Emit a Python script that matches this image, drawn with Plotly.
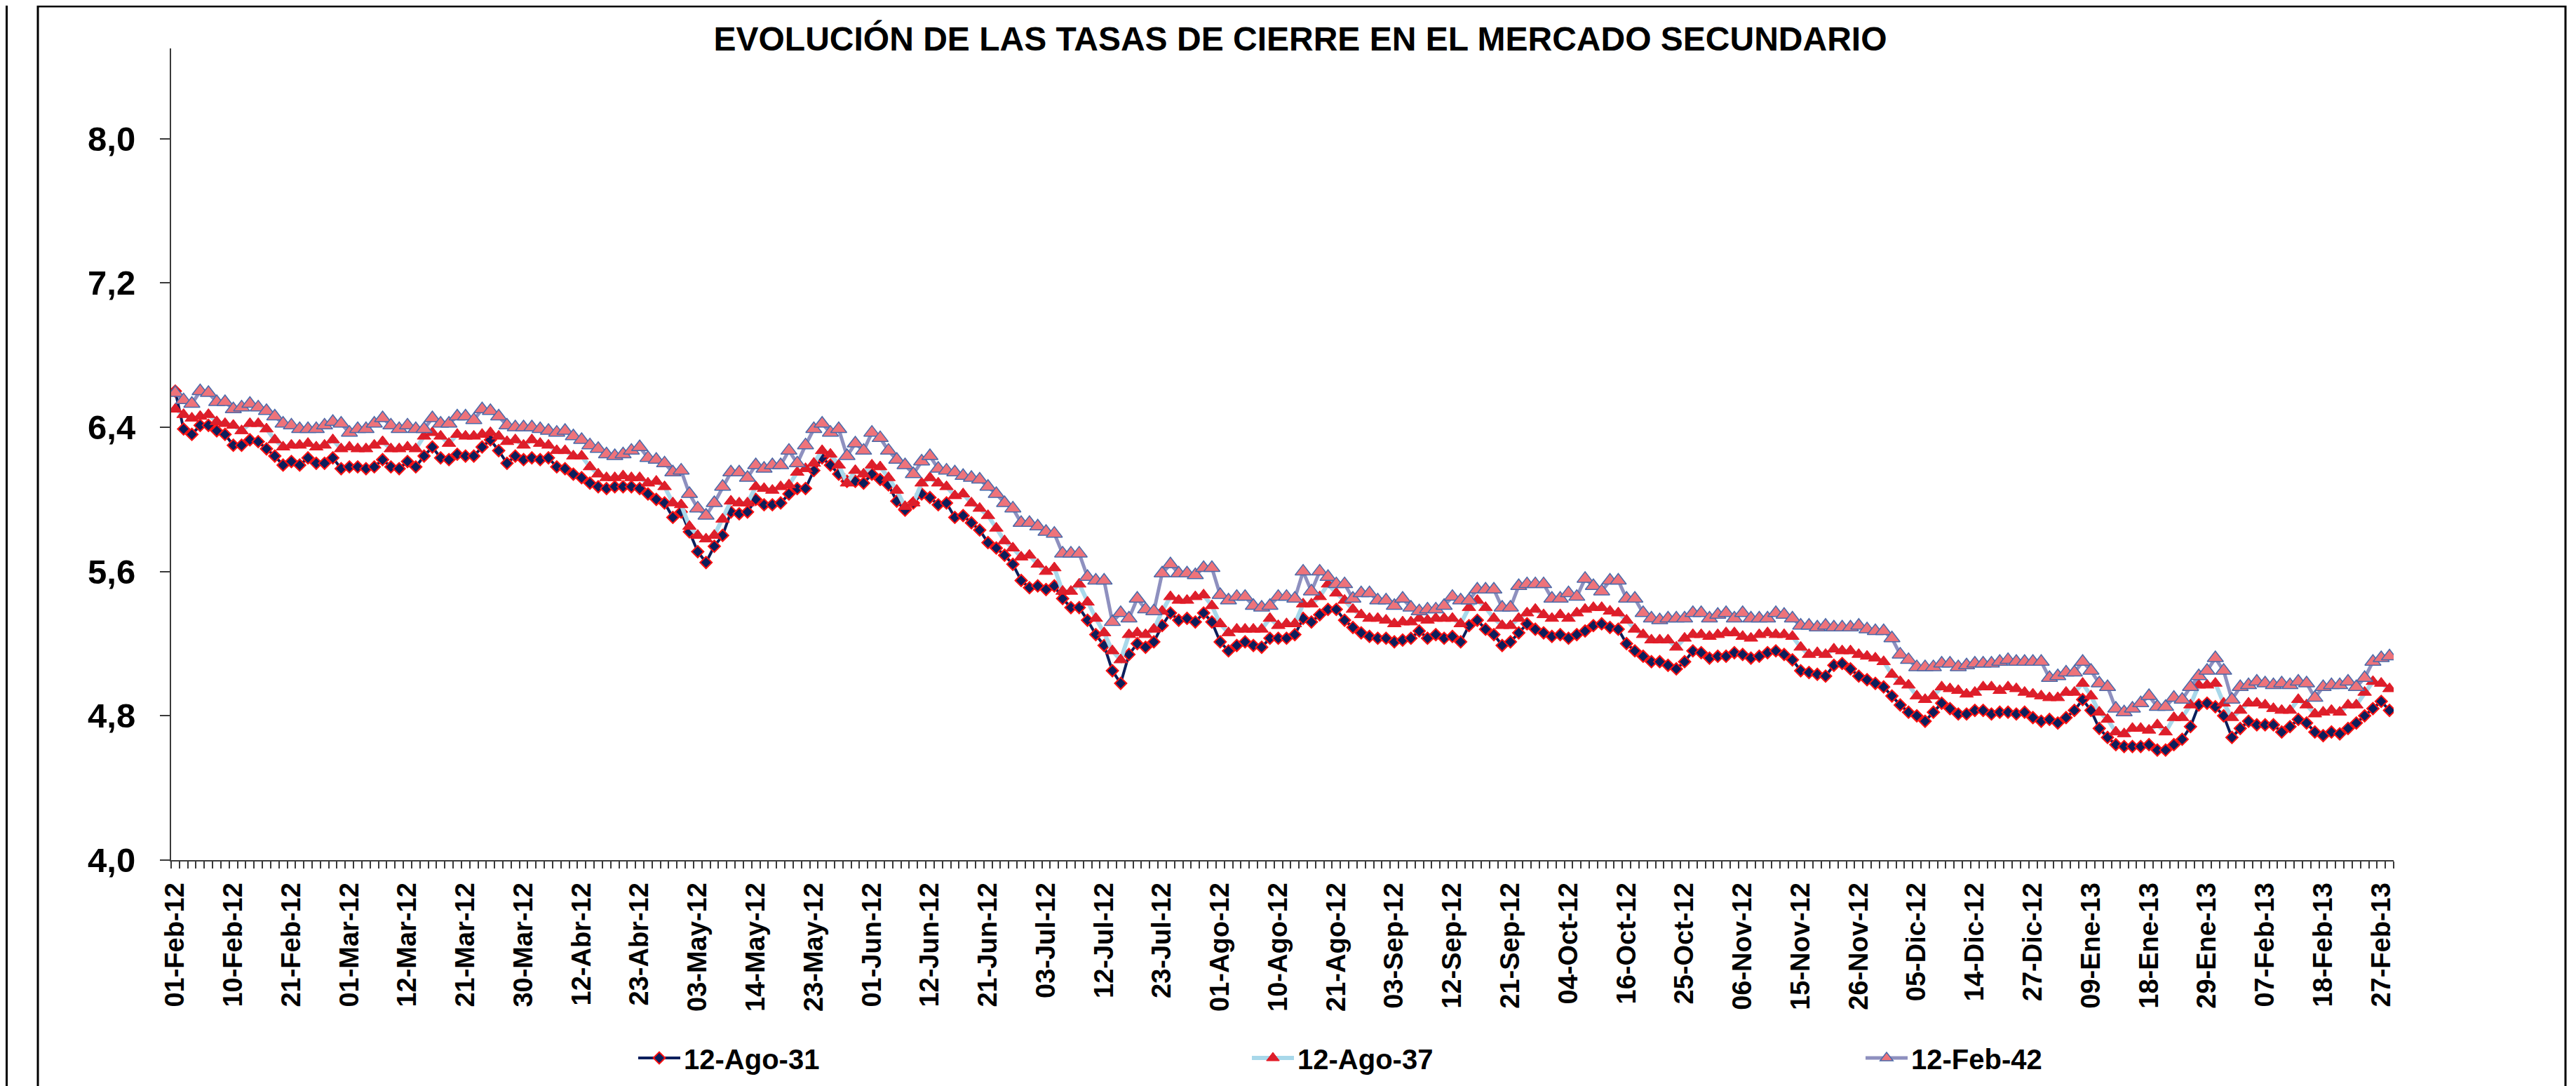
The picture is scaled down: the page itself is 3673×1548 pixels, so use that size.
import plotly.graph_objects as go

# ---------------- data ----------------
series_names = ["12-Ago-31", "12-Ago-37", "12-Feb-42"]

tick_labels = [
    "01-Feb-12", "10-Feb-12", "21-Feb-12", "01-Mar-12", "12-Mar-12", "21-Mar-12",
    "30-Mar-12", "12-Abr-12", "23-Abr-12", "03-May-12", "14-May-12", "23-May-12",
    "01-Jun-12", "12-Jun-12", "21-Jun-12", "03-Jul-12", "12-Jul-12", "23-Jul-12",
    "01-Ago-12", "10-Ago-12", "21-Ago-12", "03-Sep-12", "12-Sep-12", "21-Sep-12",
    "04-Oct-12", "16-Oct-12", "25-Oct-12", "06-Nov-12", "15-Nov-12", "26-Nov-12",
    "05-Dic-12", "14-Dic-12", "27-Dic-12", "09-Ene-13", "18-Ene-13", "29-Ene-13",
    "07-Feb-13", "18-Feb-13", "27-Feb-13",
]

s_ago31 = [
    6.60, 6.39, 6.36, 6.41, 6.41, 6.38, 6.36, 6.30, 6.30, 6.33,
    6.32, 6.28, 6.24, 6.19, 6.21, 6.19, 6.23, 6.20, 6.20, 6.23,
    6.17, 6.18, 6.18, 6.17, 6.18, 6.22, 6.18, 6.17, 6.21, 6.18,
    6.24, 6.29, 6.23, 6.22, 6.25, 6.24, 6.24, 6.29, 6.33, 6.27,
    6.20, 6.24, 6.22, 6.23, 6.22, 6.23, 6.18, 6.17, 6.14, 6.12,
    6.09, 6.07, 6.06, 6.07, 6.07, 6.07, 6.06, 6.03, 6.00, 5.98,
    5.90, 5.93, 5.82, 5.71, 5.65, 5.74, 5.80, 5.93, 5.92, 5.93,
    6.00, 5.97, 5.97, 5.98, 6.03, 6.06, 6.06, 6.16, 6.23, 6.19,
    6.14, 6.10, 6.10, 6.09, 6.14, 6.11, 6.08, 5.99, 5.94, 5.98,
    6.03, 6.01, 5.97, 5.98, 5.90, 5.91, 5.87, 5.83, 5.76, 5.73,
    5.69, 5.64, 5.55, 5.51, 5.52, 5.50, 5.52, 5.45, 5.40, 5.40,
    5.33, 5.25, 5.19, 5.05, 4.98, 5.14, 5.20, 5.18, 5.21, 5.30,
    5.37, 5.33, 5.34, 5.32, 5.37, 5.32, 5.21, 5.16, 5.19, 5.21,
    5.19, 5.18, 5.23, 5.23, 5.23, 5.25, 5.34, 5.32, 5.36, 5.39,
    5.39, 5.33, 5.29, 5.26, 5.24, 5.23, 5.23, 5.21, 5.22, 5.23,
    5.27, 5.23, 5.25, 5.23, 5.24, 5.21, 5.30, 5.33, 5.28, 5.25,
    5.19, 5.21, 5.26, 5.31, 5.28, 5.26, 5.24, 5.25, 5.23, 5.25,
    5.27, 5.30, 5.31, 5.29, 5.28, 5.20, 5.16, 5.13, 5.10, 5.10,
    5.08, 5.06, 5.10, 5.16, 5.15, 5.12, 5.13, 5.13, 5.15, 5.14,
    5.12, 5.13, 5.15, 5.16, 5.14, 5.11, 5.05, 5.04, 5.03, 5.02,
    5.08, 5.09, 5.06, 5.02, 5.00, 4.98, 4.96, 4.91, 4.86, 4.82,
    4.80, 4.77, 4.82, 4.87, 4.84, 4.81, 4.81, 4.83, 4.83, 4.81,
    4.82, 4.82, 4.81, 4.82, 4.79, 4.77, 4.78, 4.76, 4.79, 4.83,
    4.89, 4.83, 4.73, 4.68, 4.64, 4.63, 4.63, 4.63, 4.64, 4.61,
    4.61, 4.64, 4.67, 4.74, 4.86, 4.87, 4.85, 4.80, 4.68, 4.73,
    4.77, 4.75, 4.75, 4.75, 4.71, 4.74, 4.78, 4.76, 4.71, 4.69,
    4.71, 4.70, 4.73, 4.76, 4.80, 4.84, 4.88, 4.83,
]

s_ago37 = [
    6.50, 6.47, 6.45, 6.46, 6.47, 6.43, 6.42, 6.41, 6.38, 6.42,
    6.42, 6.39, 6.33, 6.29, 6.30, 6.30, 6.31, 6.29, 6.30, 6.33,
    6.28, 6.29, 6.28, 6.28, 6.30, 6.32, 6.28, 6.28, 6.29, 6.28,
    6.35, 6.37, 6.35, 6.31, 6.36, 6.35, 6.35, 6.36, 6.37, 6.35,
    6.32, 6.33, 6.30, 6.33, 6.31, 6.30, 6.27, 6.27, 6.24, 6.24,
    6.18, 6.14, 6.12, 6.12, 6.13, 6.12, 6.12, 6.09, 6.10, 6.07,
    5.98, 5.97, 5.85, 5.80, 5.78, 5.80, 5.89, 5.99, 5.98, 5.98,
    6.07, 6.06, 6.05, 6.07, 6.08, 6.15, 6.17, 6.20, 6.27, 6.25,
    6.19, 6.09, 6.16, 6.14, 6.19, 6.18, 6.12, 6.05, 5.96, 5.98,
    6.09, 6.12, 6.09, 6.07, 6.02, 6.03, 5.98, 5.95, 5.91, 5.84,
    5.77, 5.73, 5.68, 5.69, 5.64, 5.60, 5.62, 5.49, 5.49, 5.53,
    5.43, 5.34, 5.26, 5.16, 5.11, 5.25, 5.26, 5.25, 5.28, 5.38,
    5.46, 5.44, 5.44, 5.46, 5.47, 5.41, 5.31, 5.26, 5.28, 5.28,
    5.28, 5.28, 5.34, 5.30, 5.31, 5.31, 5.42, 5.42, 5.46, 5.53,
    5.48, 5.44, 5.39, 5.36, 5.34, 5.34, 5.33, 5.31, 5.32, 5.32,
    5.34, 5.33, 5.34, 5.34, 5.34, 5.31, 5.40, 5.44, 5.40, 5.34,
    5.30, 5.30, 5.34, 5.37, 5.39, 5.36, 5.34, 5.36, 5.34, 5.37,
    5.39, 5.40, 5.40, 5.38, 5.37, 5.33, 5.28, 5.25, 5.22, 5.22,
    5.22, 5.18, 5.23, 5.25, 5.25, 5.24, 5.25, 5.26, 5.26, 5.24,
    5.23, 5.25, 5.26, 5.25, 5.25, 5.24, 5.18, 5.14, 5.15, 5.14,
    5.17, 5.16, 5.16, 5.14, 5.13, 5.12, 5.10, 5.03, 4.99, 4.97,
    4.91, 4.89, 4.91, 4.96, 4.95, 4.94, 4.92, 4.93, 4.96, 4.96,
    4.94, 4.96, 4.95, 4.93, 4.92, 4.91, 4.90, 4.90, 4.93, 4.93,
    4.98, 4.91, 4.82, 4.78, 4.71, 4.70, 4.73, 4.73, 4.72, 4.75,
    4.71, 4.79, 4.79, 4.86, 4.97, 4.97, 4.98, 4.87, 4.79, 4.83,
    4.87, 4.87, 4.86, 4.84, 4.83, 4.83, 4.89, 4.86, 4.81, 4.82,
    4.83, 4.82, 4.86, 4.86, 4.93, 4.99, 4.98, 4.95,
]

s_feb42 = [
    6.59, 6.55, 6.53, 6.60, 6.59, 6.54, 6.54, 6.50, 6.51, 6.53,
    6.51, 6.49, 6.46, 6.42, 6.41, 6.39, 6.39, 6.39, 6.41, 6.43,
    6.42, 6.37, 6.39, 6.39, 6.42, 6.45, 6.41, 6.39, 6.41, 6.39,
    6.39, 6.45, 6.42, 6.42, 6.46, 6.46, 6.44, 6.50, 6.49, 6.46,
    6.41, 6.40, 6.40, 6.40, 6.39, 6.38, 6.37, 6.38, 6.35, 6.33,
    6.30, 6.28, 6.25, 6.24, 6.25, 6.27, 6.29, 6.23, 6.22, 6.20,
    6.15, 6.16, 6.03, 5.95, 5.91, 5.98, 6.07, 6.15, 6.15, 6.12,
    6.19, 6.17, 6.19, 6.19, 6.27, 6.20, 6.30, 6.39, 6.42, 6.37,
    6.39, 6.24, 6.31, 6.27, 6.37, 6.34, 6.27, 6.22, 6.19, 6.14,
    6.21, 6.24, 6.17, 6.16, 6.15, 6.13, 6.12, 6.11, 6.07, 6.03,
    5.98, 5.95, 5.87, 5.87, 5.85, 5.82, 5.81, 5.70, 5.70, 5.70,
    5.57, 5.55, 5.55, 5.32, 5.37, 5.34, 5.45, 5.39, 5.38, 5.59,
    5.64, 5.59, 5.59, 5.58, 5.62, 5.62, 5.47, 5.44, 5.46, 5.46,
    5.41, 5.40, 5.41, 5.46, 5.46, 5.45, 5.60, 5.49, 5.60, 5.57,
    5.53, 5.53, 5.45, 5.48, 5.48, 5.44, 5.44, 5.41, 5.45, 5.40,
    5.38, 5.39, 5.39, 5.41, 5.46, 5.44, 5.44, 5.50, 5.50, 5.50,
    5.40, 5.40, 5.52, 5.53, 5.53, 5.53, 5.45, 5.45, 5.48, 5.46,
    5.56, 5.52, 5.49, 5.55, 5.55, 5.45, 5.45, 5.37, 5.34, 5.33,
    5.34, 5.34, 5.34, 5.37, 5.37, 5.34, 5.36, 5.37, 5.34, 5.37,
    5.34, 5.34, 5.34, 5.37, 5.36, 5.34, 5.30, 5.30, 5.29, 5.30,
    5.29, 5.29, 5.29, 5.30, 5.28, 5.27, 5.27, 5.23, 5.14, 5.11,
    5.07, 5.07, 5.07, 5.09, 5.09, 5.07, 5.08, 5.09, 5.09, 5.09,
    5.10, 5.11, 5.10, 5.10, 5.10, 5.10, 5.01, 5.02, 5.04, 5.04,
    5.10, 5.05, 4.98, 4.96, 4.84, 4.82, 4.84, 4.87, 4.91, 4.85,
    4.85, 4.90, 4.89, 4.96, 5.02, 5.05, 5.12, 5.05, 4.89, 4.96,
    4.97, 4.99, 4.98, 4.97, 4.98, 4.97, 4.99, 4.98, 4.90, 4.96,
    4.97, 4.97, 4.99, 4.96, 5.01, 5.10, 5.12, 5.13,
]

# ---------------- geometry (page pixels) ----------------
W, H = 3673, 1548
ML, MR, MT, MB = 236, 268, 61, 330
PW = W - ML - MR
PH = H - MT - MB


def px_x(p):
    return (p - ML) / PW


def px_y(p):
    return (H - MB - p) / PH


n = len(s_ago31)
xs = list(range(n))
tick_pos = [i * 7 for i in range(len(tick_labels))]

FONT = "Arial, 'Liberation Sans', sans-serif"
AXIS_COL = "#3a3a3a"

fig = go.Figure()

fig.add_trace(go.Scatter(
    x=xs, y=s_ago31, name=series_names[0], mode="lines+markers",
    line=dict(color="#0c1f5c", width=4),
    marker=dict(symbol="diamond", size=13, color="#0c1f5c",
                line=dict(color="#ff1010", width=2)),
))
fig.add_trace(go.Scatter(
    x=xs, y=s_ago37, name=series_names[1], mode="lines+markers",
    line=dict(color="#a8d8ea", width=6),
    marker=dict(symbol="triangle-up", size=17, color="#dc1f2b",
                line=dict(color="#e8141f", width=1)),
))
fig.add_trace(go.Scatter(
    x=xs, y=s_feb42, name=series_names[2], mode="lines+markers",
    line=dict(color="#8e90bf", width=5),
    marker=dict(symbol="triangle-up", size=20, color="#ee737a",
                line=dict(color="#4a6aaa", width=1.5)),
))

fig.update_layout(
    width=W, height=H,
    margin=dict(l=ML, r=MR, t=MT, b=MB, pad=0),
    paper_bgcolor="white", plot_bgcolor="white",
    separators=",.",
    showlegend=True,
    title=dict(
        text="EVOLUCIÓN DE LAS TASAS DE CIERRE EN EL MERCADO SECUNDARIO",
        x=px_x(1846), xref="paper", xanchor="center",
        y=1 - 47 / H, yref="container", yanchor="middle",
        font=dict(family=FONT, size=48, color="black", weight="bold"),
    ),
    xaxis=dict(
        range=[-0.5, n - 0.5],
        tickmode="array", tickvals=tick_pos, ticktext=tick_labels,
        tickangle=-90, ticks="", ticklabelstandoff=15,
        tickfont=dict(family=FONT, size=38, color="black", weight="bold"),
        showline=True, linecolor=AXIS_COL, linewidth=2,
        showgrid=False, zeroline=False,
        minor=dict(tickmode="array", tickvals=[i - 0.5 for i in range(n + 1)],
                   ticks="outside", ticklen=10, tickwidth=1.5,
                   tickcolor=AXIS_COL, showgrid=False),
    ),
    yaxis=dict(
        range=[4.0, 8.5],
        tickmode="array", tickvals=[4.0, 4.8, 5.6, 6.4, 7.2, 8.0],
        tickformat=".1f",
        ticks="outside", ticklen=14, tickwidth=2, tickcolor=AXIS_COL,
        ticklabelstandoff=25,
        tickfont=dict(family=FONT, size=49, color="black", weight="bold"),
        showline=True, linecolor=AXIS_COL, linewidth=2,
        showgrid=False, zeroline=False,
    ),
    legend=dict(
        orientation="h", x=px_x(897), y=px_y(1500),
        xanchor="left", yanchor="middle",
        font=dict(family=FONT, size=40, color="black", weight="bold"),
        itemwidth=60, entrywidth=800, entrywidthmode="pixels",
        traceorder="normal", bgcolor="rgba(0,0,0,0)",
    ),
    shapes=[
        dict(type="rect", xref="paper", yref="paper",
             x0=px_x(46), x1=px_x(3650), y0=px_y(1546), y1=px_y(1),
             line=dict(color="black", width=3), fillcolor="rgba(0,0,0,0)",
             layer="below"),
        dict(type="line", xref="paper", yref="paper",
             x0=px_x(1.5), x1=px_x(1.5), y0=px_y(H), y1=px_y(0),
             line=dict(color="black", width=3)),
    ],
)

fig.write_html("out.html")
